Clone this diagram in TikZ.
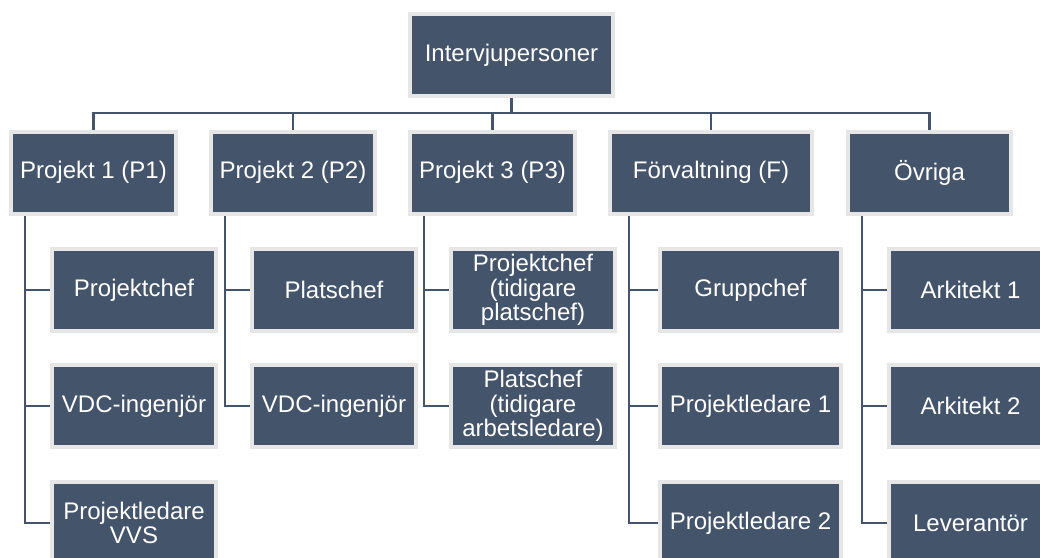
\documentclass[tikz,border=0pt]{standalone}
\usepackage{fontspec}
\setmainfont{Liberation Sans}
\usepackage{xcolor}
\usepackage{tikz}
\usetikzlibrary{backgrounds}

\definecolor{slate}{HTML}{44546A}
\definecolor{rim}{HTML}{E7E6E6}

\begin{document}
\begin{tikzpicture}[
  x=1pt, y=-1pt,
  box/.style={rectangle, draw=rim, line width=4pt, fill=slate, text=white,
              inner sep=0pt, minimum height=82pt, align=center,
              font=\fontsize{24}{24.5}\selectfont},
  link/.style={draw=slate, line width=2.6pt}
]
\useasboundingbox (0,0) rectangle (1040,557);

\node[box, minimum width=203pt] (root) at (511.5,55) {Intervjupersoner};

\node[box, minimum width=165pt] (p1) at (93.5,172.5) {Projekt 1 (P1)};
\node[box, minimum width=164pt] (p2) at (293,172.5)  {Projekt 2 (P2)};
\node[box, minimum width=165pt] (p3) at (492.5,172.5){Projekt 3 (P3)};
\node[box, minimum width=202pt] (fv) at (711,172.5)  {Förvaltning (F)};
\node[box, minimum width=163pt] (ov) at (929.5,172.5){Övriga};

\node[box, minimum width=164pt] (p1a) at (134,290) {Projektchef};
\node[box, minimum width=164pt] (p1b) at (134,406) {VDC-ingenjör};
\node[box, minimum width=164pt] (p1c) at (134,523) {Projektledare\\VVS};

\node[box, minimum width=164pt] (p2a) at (334,290) {Platschef};
\node[box, minimum width=164pt] (p2b) at (334,406) {VDC-ingenjör};

\node[box, minimum width=164pt] (p3a) at (533,290) {Projektchef\\(tidigare\\platschef)};
\node[box, minimum width=164pt] (p3b) at (533,406) {Platschef\\(tidigare\\arbetsledare)};

\node[box, minimum width=181pt] (fva) at (750.5,290) {Gruppchef};
\node[box, minimum width=181pt] (fvb) at (750.5,406) {Projektledare 1};
\node[box, minimum width=181pt] (fvc) at (750.5,523) {Projektledare 2};

\node[box, minimum width=163pt] (ova) at (970.5,290) {Arkitekt 1};
\node[box, minimum width=163pt] (ovb) at (970.5,406) {Arkitekt 2};
\node[box, minimum width=163pt] (ovc) at (970.5,523) {Leverantör};

\begin{scope}[on background layer]
% top level
\foreach \k in {p1,p2,p3,fv,ov}
  \draw[link] (root.south) -- ++(0,15) -| (\k.north);
% branches
\foreach \k in {p1a,p1b,p1c}
  \draw[link] ([xshift=16pt]p1.south west) |- (\k.west);
\foreach \k in {p2a,p2b}
  \draw[link] ([xshift=16pt]p2.south west) |- (\k.west);
\foreach \k in {p3a,p3b}
  \draw[link] ([xshift=16pt]p3.south west) |- (\k.west);
\foreach \k in {fva,fvb,fvc}
  \draw[link] ([xshift=21pt]fv.south west) |- (\k.west);
\foreach \k in {ova,ovb,ovc}
  \draw[link] ([xshift=16pt]ov.south west) |- (\k.west);
\end{scope}
\end{tikzpicture}
\end{document}
